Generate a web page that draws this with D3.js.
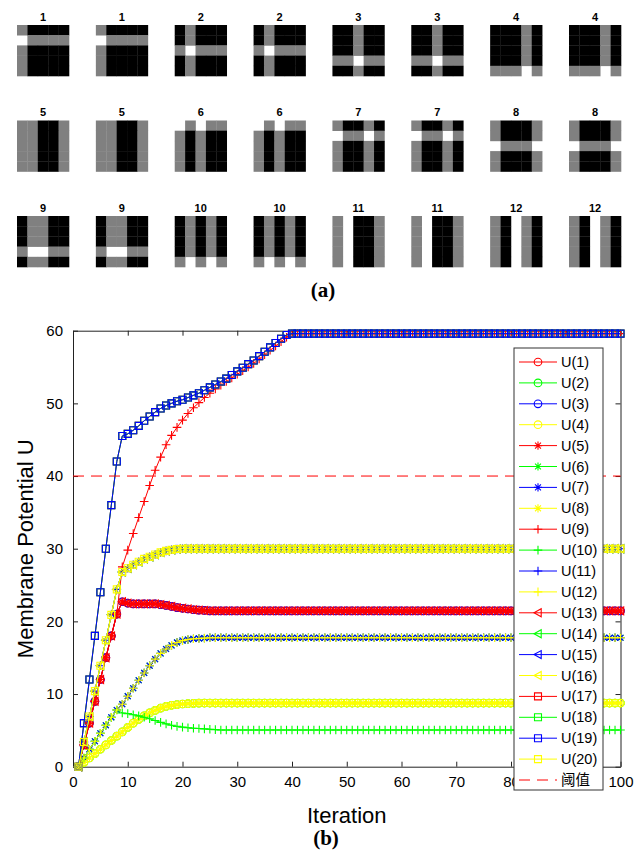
<!DOCTYPE html>
<html>
<head>
<meta charset="utf-8">
<script src="https://cdn.jsdelivr.net/npm/d3@7"></script>
<style>
  body { margin: 0; background: #fff; }
  svg { display: block; font-family: "Liberation Sans", Arial, sans-serif; }
</style>
</head>
<body>
<div id="chart"></div>
<script>
// ---------- panel (a): the binary patterns ----------
// G = gray, B = black, W = white ; 5 rows of 5 cells each
const patternIds = [1, 1, 2, 2, 3, 3, 4, 4, 5, 5, 6, 6, 7, 7, 8, 8, 9, 9, 10, 10, 11, 11, 12, 12];
const patternGrids = [
  ["GBBBB", "WGGGG", "GBBBB", "GBBBB", "GBBBB"],   // 1
  ["BGBBB", "BGBBB", "GWGGG", "BGBBB", "BGBBB"],   // 2
  ["BBGBB", "BBGBB", "BBGBB", "GGWGG", "BBGBB"],   // 3
  ["BBBGB", "BBBGB", "BBBGB", "BBBGB", "GGGWG"],   // 4
  ["GGBBG", "GGBBG", "GGBBG", "GGBBG", "GGBBG"],   // 5
  ["WGWGG", "GBGBB", "GBGBB", "GBGBB", "GBGBB"],   // 6
  ["GBBGB", "WGGWG", "GBBGB", "GBBGB", "GBBGB"],   // 7
  ["GBBBG", "GBBBG", "WGGGW", "GBBBG", "GBBBG"],   // 8
  ["BGGBB", "BGGBB", "BGGBB", "GWWGG", "BGGBB"],   // 9
  ["BGBGB", "BGBGB", "BGBGB", "BGBGB", "GWGWG"],   // 10
  ["GWBBG", "GWBBG", "GWBBG", "GWBBG", "GWBBG"],   // 11
  ["GBWGB", "GBWGB", "GBWGB", "GBWGB", "GBWGB"]    // 12
];
const cellColors = { G: "#808080", B: "#000000", W: "#ffffff" };

// ---------- panel (b): membrane potential curves ----------
const xTicks = [0, 10, 20, 30, 40, 50, 60, 70, 80, 90, 100];
const xTickHidden = [90];          // label sits under the legend box
const yTicks = [0, 10, 20, 30, 40, 50, 60];
const threshold = 40;

// blue squares, reaches the top
const curveTopSquare = [
  0, 6, 12, 18, 24, 30, 36, 42, 45.5, 45.8,
  46.3, 46.9, 47.6, 48.2, 48.8, 49.3, 49.7, 50.0, 50.3, 50.5,
  50.8, 51.1, 51.4, 51.8, 52.2, 52.6, 53.0, 53.4, 53.9, 54.4,
  54.9, 55.4, 55.9, 56.5, 57.1, 57.7, 58.3, 58.9, 59.4, 59.6,
  59.6, 59.6, 59.6, 59.6, 59.6, 59.6, 59.6, 59.6, 59.6, 59.6,
  59.6, 59.6, 59.6, 59.6, 59.6, 59.6, 59.6, 59.6, 59.6, 59.6,
  59.6, 59.6, 59.6, 59.6, 59.6, 59.6, 59.6, 59.6, 59.6, 59.6,
  59.6, 59.6, 59.6, 59.6, 59.6, 59.6, 59.6, 59.6, 59.6, 59.6,
  59.6, 59.6, 59.6, 59.6, 59.6, 59.6, 59.6, 59.6, 59.6, 59.6,
  59.6, 59.6, 59.6, 59.6, 59.6, 59.6, 59.6, 59.6, 59.6, 59.6
];
// red plus, reaches the top more slowly
const curveTopPlus = [
  0, 3, 6, 9, 12, 15, 18, 21, 27.5, 29.8,
  32.1, 34.3, 36.5, 38.7, 40.8, 42.6, 44.3, 45.6, 46.7, 47.7,
  48.6, 49.4, 50.1, 50.8, 51.4, 52.0, 52.5, 53.0, 53.5, 54.0,
  54.5, 55.0, 55.5, 56.1, 56.7, 57.3, 57.9, 58.5, 59.1, 59.6,
  59.6, 59.6, 59.6, 59.6, 59.6, 59.6, 59.6, 59.6, 59.6, 59.6,
  59.6, 59.6, 59.6, 59.6, 59.6, 59.6, 59.6, 59.6, 59.6, 59.6,
  59.6, 59.6, 59.6, 59.6, 59.6, 59.6, 59.6, 59.6, 59.6, 59.6,
  59.6, 59.6, 59.6, 59.6, 59.6, 59.6, 59.6, 59.6, 59.6, 59.6,
  59.6, 59.6, 59.6, 59.6, 59.6, 59.6, 59.6, 59.6, 59.6, 59.6,
  59.6, 59.6, 59.6, 59.6, 59.6, 59.6, 59.6, 59.6, 59.6, 59.6
];
// group settling near 30
const curve30 = [
  0, 3.4, 6.9, 10.4, 13.9, 17.4, 20.9, 24.4, 26.8, 27.3,
  27.8, 28.2, 28.6, 28.9, 29.2, 29.5, 29.7, 29.85, 29.95, 30,
  30, 30, 30, 30, 30, 30, 30, 30, 30, 30,
  30, 30, 30, 30, 30, 30, 30, 30, 30, 30,
  30, 30, 30, 30, 30, 30, 30, 30, 30, 30,
  30, 30, 30, 30, 30, 30, 30, 30, 30, 30,
  30, 30, 30, 30, 30, 30, 30, 30, 30, 30,
  30, 30, 30, 30, 30, 30, 30, 30, 30, 30,
  30, 30, 30, 30, 30, 30, 30, 30, 30, 30,
  30, 30, 30, 30, 30, 30, 30, 30, 30, 30
];
// group settling near 21.5
const curve21 = [
  0, 3, 6, 9, 12, 15, 18, 21, 22.7, 22.5,
  22.4, 22.4, 22.4, 22.4, 22.4, 22.3, 22.2, 22.05, 21.9, 21.8,
  21.7, 21.6, 21.55, 21.5, 21.45, 21.45, 21.45, 21.45, 21.45, 21.45,
  21.45, 21.45, 21.45, 21.45, 21.45, 21.45, 21.45, 21.45, 21.45, 21.45,
  21.45, 21.45, 21.45, 21.45, 21.45, 21.45, 21.45, 21.45, 21.45, 21.45,
  21.45, 21.45, 21.45, 21.45, 21.45, 21.45, 21.45, 21.45, 21.45, 21.45,
  21.45, 21.45, 21.45, 21.45, 21.45, 21.45, 21.45, 21.45, 21.45, 21.45,
  21.45, 21.45, 21.45, 21.45, 21.45, 21.45, 21.45, 21.45, 21.45, 21.45,
  21.45, 21.45, 21.45, 21.45, 21.45, 21.45, 21.45, 21.45, 21.45, 21.45,
  21.45, 21.45, 21.45, 21.45, 21.45, 21.45, 21.45, 21.45, 21.45, 21.45
];
// group settling near 17.7
const curve18 = [
  0, 1.2, 2.4, 3.5, 4.6, 5.7, 6.8, 7.8, 8.6, 9.7,
  10.8, 11.9, 12.9, 13.9, 14.8, 15.6, 16.2, 16.7, 17.1, 17.35,
  17.5, 17.6, 17.65, 17.7, 17.75, 17.75, 17.75, 17.75, 17.75, 17.75,
  17.75, 17.75, 17.75, 17.75, 17.75, 17.75, 17.75, 17.75, 17.75, 17.75,
  17.75, 17.75, 17.75, 17.75, 17.75, 17.75, 17.75, 17.75, 17.75, 17.75,
  17.75, 17.75, 17.75, 17.75, 17.75, 17.75, 17.75, 17.75, 17.75, 17.75,
  17.75, 17.75, 17.75, 17.75, 17.75, 17.75, 17.75, 17.75, 17.75, 17.75,
  17.75, 17.75, 17.75, 17.75, 17.75, 17.75, 17.75, 17.75, 17.75, 17.75,
  17.75, 17.75, 17.75, 17.75, 17.75, 17.75, 17.75, 17.75, 17.75, 17.75,
  17.75, 17.75, 17.75, 17.75, 17.75, 17.75, 17.75, 17.75, 17.75, 17.75
];
// yellow circles settling near 8.8
const curve9 = [
  0, 0.6, 1.2, 1.8, 2.4, 3.0, 3.6, 4.2, 4.8, 5.4,
  6.0, 6.5, 7.0, 7.4, 7.75, 8.05, 8.3, 8.45, 8.55, 8.63,
  8.68, 8.72, 8.74, 8.76, 8.76, 8.76, 8.76, 8.76, 8.76, 8.76,
  8.76, 8.76, 8.76, 8.76, 8.76, 8.76, 8.76, 8.76, 8.76, 8.76,
  8.76, 8.76, 8.76, 8.76, 8.76, 8.76, 8.76, 8.76, 8.76, 8.76,
  8.76, 8.76, 8.76, 8.76, 8.76, 8.76, 8.76, 8.76, 8.76, 8.76,
  8.76, 8.76, 8.76, 8.76, 8.76, 8.76, 8.76, 8.76, 8.76, 8.76,
  8.76, 8.76, 8.76, 8.76, 8.76, 8.76, 8.76, 8.76, 8.76, 8.76,
  8.76, 8.76, 8.76, 8.76, 8.76, 8.76, 8.76, 8.76, 8.76, 8.76,
  8.76, 8.76, 8.76, 8.76, 8.76, 8.76, 8.76, 8.76, 8.76, 8.76
];
// green plus settling near 5
const curve5 = [
  0, 1.2, 2.4, 3.5, 4.6, 5.7, 6.8, 7.8, 7.4, 7.3,
  7.15, 7.0, 6.8, 6.6, 6.35, 6.1, 5.9, 5.7, 5.55, 5.45,
  5.35, 5.3, 5.25, 5.2, 5.15, 5.1, 5.05, 5.05, 5.05, 5.05,
  5.05, 5.05, 5.05, 5.05, 5.05, 5.05, 5.05, 5.05, 5.05, 5.05,
  5.05, 5.05, 5.05, 5.05, 5.05, 5.05, 5.05, 5.05, 5.05, 5.05,
  5.05, 5.05, 5.05, 5.05, 5.05, 5.05, 5.05, 5.05, 5.05, 5.05,
  5.05, 5.05, 5.05, 5.05, 5.05, 5.05, 5.05, 5.05, 5.05, 5.05,
  5.05, 5.05, 5.05, 5.05, 5.05, 5.05, 5.05, 5.05, 5.05, 5.05,
  5.05, 5.05, 5.05, 5.05, 5.05, 5.05, 5.05, 5.05, 5.05, 5.05,
  5.05, 5.05, 5.05, 5.05, 5.05, 5.05, 5.05, 5.05, 5.05, 5.05
];

const curves = {
  sq: curveTopSquare, plus: curveTopPlus, c30: curve30, c21: curve21,
  c18: curve18, c9: curve9, c5: curve5
};
// which curve each neuron U(1)..U(20) follows
const seriesCurve = [
  "c21", "c9", "c21", "c9",     // U1-U4   circles
  "c21", "c18", "c18", "c9",    // U5-U8   asterisks
  "plus", "c5", "c30", "c18",   // U9-U12  plus
  "c21", "c30", "c30", "c30",   // U13-U16 triangles
  "sq", "sq", "sq", "c30"       // U17-U20 squares
];
const seriesNames = d3.range(1, 21).map(i => `U(${i})`);
const colorCycle = ["#ff0000", "#00ff00", "#0000ff", "#ffff00"];
const markerCycle = ["circle", "asterisk", "plus", "triangle", "square"];
const iterations = d3.range(1, 101);

// ---------- layout ----------
const width = 644, height = 854;
const svg = d3.select("#chart").append("svg")
  .attr("width", width).attr("height", height);
svg.append("rect").attr("width", width).attr("height", height).attr("fill", "#fff");

/***********************/
/* panel (a): patterns */
/***********************/
const patCol = d3.scaleLinear().domain([0, 7]).range([17, 569]);
const patRow = d3.scaleLinear().domain([0, 2]).range([25, 216]);
const cellX = d3.scaleBand().domain(d3.range(5)).range([0, 52]);
const cellY = d3.scaleBand().domain(d3.range(5)).range([0, 51]);

const patGroups = svg.append("g").selectAll("g")
  .data(patternIds)
  .join("g")
    .attr("transform", (d, k) => `translate(${patCol(k % 8)},${patRow(Math.floor(k / 8))})`);

patGroups.each(function(id) {
  const cells = [];
  patternGrids[id - 1].forEach((row, r) => {
    row.split("").forEach((c, col) => cells.push({ r, col, c }));
  });
  d3.select(this).selectAll("rect")
    .data(cells.filter(d => d.c !== "W"))
    .join("rect")
      .attr("x", d => cellX(d.col))
      .attr("y", d => cellY(d.r))
      .attr("width", cellX.bandwidth() + 0.3)
      .attr("height", cellY.bandwidth() + 0.3)
      .attr("fill", d => cellColors[d.c]);
});

patGroups.append("text")
  .attr("x", 26)
  .attr("y", -4.5)
  .attr("text-anchor", "middle")
  .attr("font-size", 11)
  .attr("font-weight", "bold")
  .text(d => d);

svg.append("text")
  .attr("x", 323).attr("y", 297)
  .attr("text-anchor", "middle")
  .attr("font-family", "'Liberation Serif', 'Times New Roman', serif")
  .attr("font-weight", "bold")
  .attr("font-size", 21)
  .text("(a)");

/*******************************/
/* panel (b): potential curves */
/*******************************/
const xScale = d3.scaleLinear().domain([0, 100]).range([73, 620.5]);
const yScale = d3.scaleLinear().domain([0, 60]).range([766.7, 330.7]);

const frameColor = "#222";
const axes = svg.append("g").attr("font-size", 15);

const bottomAxis = axes.append("g")
  .attr("transform", `translate(0,${yScale(0)})`)
  .call(d3.axisBottom(xScale).tickValues(xTicks)
    .tickFormat(d => xTickHidden.includes(d) ? "" : d)
    .tickSizeInner(-5).tickSizeOuter(0).tickPadding(10));
const topAxis = axes.append("g")
  .attr("transform", `translate(0,${yScale(60)})`)
  .call(d3.axisTop(xScale).tickValues(xTicks).tickSizeInner(-5).tickSizeOuter(0).tickFormat(""));
const leftAxis = axes.append("g")
  .attr("transform", `translate(${xScale(0)},0)`)
  .call(d3.axisLeft(yScale).tickValues(yTicks).tickSizeInner(-5).tickSizeOuter(0).tickPadding(10));
const rightAxis = axes.append("g")
  .attr("transform", `translate(${xScale(100)},0)`)
  .call(d3.axisRight(yScale).tickValues(yTicks).tickSizeInner(-5).tickSizeOuter(0).tickFormat(""));

axes.selectAll(".domain, .tick line").attr("stroke", frameColor);
axes.selectAll("text").attr("fill", "#000").attr("font-family", "'Liberation Sans', Arial, sans-serif");
bottomAxis.selectAll(".tick text").attr("font-size", 15);
leftAxis.selectAll(".tick text").attr("font-size", 15);

// axis labels
svg.append("text")
  .attr("x", (xScale(0) + xScale(100)) / 2)
  .attr("y", 823)
  .attr("text-anchor", "middle")
  .attr("font-size", 22)
  .text("Iteration");

svg.append("text")
  .attr("transform", "rotate(-90)")
  .attr("x", -(yScale(0) + yScale(60)) / 2)
  .attr("y", 33)
  .attr("text-anchor", "middle")
  .attr("font-size", 22)
  .text("Membrane Potential U");

svg.append("text")
  .attr("x", 326).attr("y", 845)
  .attr("text-anchor", "middle")
  .attr("font-family", "'Liberation Serif', 'Times New Roman', serif")
  .attr("font-weight", "bold")
  .attr("font-size", 21)
  .text("(b)");

// marker symbols (size argument = radius squared)
const symbols = {
  circle: { draw(ctx, s) { const r = Math.sqrt(s); ctx.moveTo(r, 0); ctx.arc(0, 0, r, 0, 2 * Math.PI); } },
  plus: { draw(ctx, s) { const r = Math.sqrt(s); ctx.moveTo(-r, 0); ctx.lineTo(r, 0); ctx.moveTo(0, -r); ctx.lineTo(0, r); } },
  asterisk: { draw(ctx, s) {
    const r = Math.sqrt(s), q = r * 0.72;
    ctx.moveTo(-r, 0); ctx.lineTo(r, 0); ctx.moveTo(0, -r); ctx.lineTo(0, r);
    ctx.moveTo(-q, -q); ctx.lineTo(q, q); ctx.moveTo(-q, q); ctx.lineTo(q, -q);
  } },
  triangle: { draw(ctx, s) { const r = Math.sqrt(s); ctx.moveTo(-r, 0); ctx.lineTo(r * 0.8, -r); ctx.lineTo(r * 0.8, r); ctx.closePath(); } },
  square: { draw(ctx, s) { const r = Math.sqrt(s); ctx.rect(-r, -r, 2 * r, 2 * r); } }
};
const markerRadius = { circle: 3.8, plus: 4.3, asterisk: 4.1, triangle: 4, square: 3.5 };
const markerPath = kind => d3.symbol().type(symbols[kind]).size(markerRadius[kind] ** 2)();

const series = seriesNames.map((name, i) => ({
  name,
  color: colorCycle[i % 4],
  marker: markerCycle[Math.floor(i / 4)],
  values: curves[seriesCurve[i]].map((v, j) => ({ it: iterations[j], v }))
}));

const line = d3.line().x(d => xScale(d.it)).y(d => yScale(d.v));
const plot = svg.append("g");

series.forEach(s => {
  const g = plot.append("g");
  g.append("path")
    .attr("d", line(s.values))
    .attr("fill", "none")
    .attr("stroke", s.color)
    .attr("stroke-width", 1);
  g.selectAll("path.mk")
    .data(s.values)
    .join("path")
      .attr("class", "mk")
      .attr("transform", d => `translate(${xScale(d.it)},${yScale(d.v)})`)
      .attr("d", markerPath(s.marker))
      .attr("fill", "none")
      .attr("stroke", s.color)
      .attr("stroke-width", 1.1);
});

// threshold line
plot.append("line")
  .attr("x1", xScale(0)).attr("x2", xScale(100))
  .attr("y1", yScale(threshold)).attr("y2", yScale(threshold))
  .attr("stroke", "#ff0000")
  .attr("stroke-width", 1)
  .attr("stroke-dasharray", "11,7");

/**********/
/* legend */
/**********/
const legendItems = series.map(s => ({ name: s.name, color: s.color, marker: s.marker }))
  .concat([{ name: "阈值", color: "#ff0000", marker: null }]);
const legendY = d3.scaleLinear().domain([0, 20]).range([362, 780]);

const legend = svg.append("g");
legend.append("rect")
  .attr("x", 514).attr("y", 348)
  .attr("width", 89).attr("height", 442)
  .attr("fill", "#fff")
  .attr("stroke", "#333")
  .attr("stroke-width", 1);

const items = legend.selectAll("g.item")
  .data(legendItems)
  .join("g")
    .attr("class", "item")
    .attr("transform", (d, i) => `translate(0,${legendY(i)})`);

items.append("line")
  .attr("x1", 519).attr("x2", 557)
  .attr("stroke", d => d.color)
  .attr("stroke-width", 1)
  .attr("stroke-dasharray", d => d.marker ? null : "11,7");

items.filter(d => d.marker)
  .append("path")
    .attr("transform", "translate(538,0)")
    .attr("d", d => markerPath(d.marker))
    .attr("fill", "none")
    .attr("stroke", d => d.color)
    .attr("stroke-width", 1.1);

items.append("text")
  .attr("x", 561)
  .attr("y", 5)
  .attr("font-size", 14.5)
  .attr("font-family", d => d.marker ? "'Liberation Sans', Arial, sans-serif" : "'Noto Sans CJK SC', sans-serif")
  .text(d => d.name);
</script>
</body>
</html>
